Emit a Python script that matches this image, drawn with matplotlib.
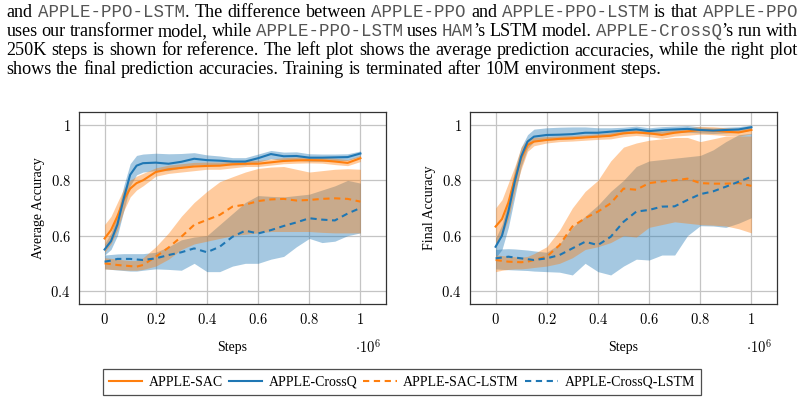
#!/usr/bin/env python3
"""
Average / final prediction accuracy of the APPLE agents, with the paper caption above.
"""

import matplotlib

matplotlib.use("Agg")

import matplotlib.pyplot as plt

plt.rcParams.update(
    {
        "font.family": ["Liberation Serif", "DejaVu Serif"],
        "mathtext.fontset": "cm",
    }
)

W, H = 804, 404

ORANGE = "#ff7f0e"
BLUE = "#1f77b4"

# steps, in units of 1e6
STEPS = [0, 0.025, 0.05, 0.075, 0.1, 0.125, 0.15, 0.2, 0.25, 0.3, 0.35, 0.4,
         0.45, 0.5, 0.55, 0.6, 0.65, 0.7, 0.75, 0.8, 0.85, 0.9, 0.95, 1.0]

# ---- left plot: average accuracy
AVG_SAC = [0.59, 0.62, 0.67, 0.73, 0.77, 0.79, 0.80, 0.83, 0.84, 0.845, 0.85, 0.852,
           0.853, 0.858, 0.86, 0.86, 0.865, 0.87, 0.872, 0.873, 0.872, 0.868, 0.863, 0.88]
AVG_SAC_LO = [0.54, 0.57, 0.62, 0.69, 0.74, 0.765, 0.78, 0.815, 0.825, 0.83, 0.835, 0.84,
              0.84, 0.845, 0.85, 0.85, 0.855, 0.86, 0.862, 0.863, 0.862, 0.857, 0.853, 0.868]
AVG_SAC_HI = [0.64, 0.67, 0.72, 0.77, 0.80, 0.815, 0.825, 0.845, 0.855, 0.86, 0.865, 0.866,
              0.866, 0.87, 0.872, 0.872, 0.877, 0.882, 0.884, 0.885, 0.884, 0.88, 0.875, 0.89]

AVG_CQ = [0.55, 0.58, 0.64, 0.735, 0.82, 0.853, 0.862, 0.864, 0.86, 0.867, 0.878, 0.873,
          0.871, 0.868, 0.868, 0.88, 0.895, 0.887, 0.888, 0.882, 0.882, 0.883, 0.884, 0.897]
AVG_CQ_LO = [0.53, 0.55, 0.60, 0.69, 0.78, 0.82, 0.83, 0.835, 0.835, 0.845, 0.855, 0.857,
             0.857, 0.856, 0.856, 0.866, 0.878, 0.872, 0.873, 0.869, 0.869, 0.871, 0.872, 0.886]
AVG_CQ_HI = [0.57, 0.61, 0.68, 0.78, 0.86, 0.89, 0.895, 0.898, 0.896, 0.897, 0.90, 0.892,
             0.888, 0.882, 0.882, 0.895, 0.908, 0.902, 0.903, 0.896, 0.895, 0.895, 0.896, 0.906]

AVG_SACL = [0.50, 0.497, 0.494, 0.492, 0.49, 0.488, 0.494, 0.524, 0.557, 0.596, 0.639, 0.657,
            0.675, 0.705, 0.712, 0.725, 0.731, 0.733, 0.727, 0.729, 0.733, 0.735, 0.733, 0.723]
AVG_SACL_LO = [0.48, 0.478, 0.477, 0.476, 0.475, 0.475, 0.478, 0.49, 0.515, 0.55, 0.57, 0.58,
               0.59, 0.60, 0.605, 0.61, 0.615, 0.615, 0.615, 0.615, 0.612, 0.61, 0.61, 0.61]
AVG_SACL_HI = [0.52, 0.518, 0.515, 0.512, 0.51, 0.51, 0.52, 0.56, 0.61, 0.67, 0.72, 0.76,
               0.795, 0.813, 0.83, 0.843, 0.848, 0.85, 0.84, 0.83, 0.835, 0.84, 0.842, 0.84]

AVG_CQL = [0.506, 0.51, 0.516, 0.516, 0.516, 0.514, 0.512, 0.518, 0.53, 0.54, 0.554, 0.54,
           0.56, 0.596, 0.618, 0.608, 0.62, 0.635, 0.648, 0.663, 0.658, 0.655, 0.68, 0.70]
AVG_CQL_LO = [0.48, 0.478, 0.476, 0.474, 0.472, 0.472, 0.475, 0.48, 0.478, 0.475, 0.50, 0.47,
              0.47, 0.49, 0.50, 0.50, 0.515, 0.525, 0.56, 0.59, 0.575, 0.58, 0.60, 0.61]
AVG_CQL_HI = [0.53, 0.532, 0.534, 0.535, 0.535, 0.535, 0.535, 0.54, 0.56, 0.585, 0.595, 0.60,
              0.64, 0.68, 0.72, 0.745, 0.742, 0.74, 0.745, 0.75, 0.765, 0.78, 0.80, 0.79]

# ---- right plot: final accuracy
FIN_SAC = [0.633, 0.66, 0.72, 0.807, 0.88, 0.928, 0.94, 0.946, 0.95, 0.952, 0.955, 0.958,
           0.961, 0.97, 0.973, 0.97, 0.964, 0.972, 0.977, 0.982, 0.98, 0.976, 0.973, 0.982]
FIN_SAC_LO = [0.57, 0.60, 0.66, 0.76, 0.84, 0.905, 0.925, 0.935, 0.94, 0.942, 0.945, 0.948,
              0.95, 0.958, 0.962, 0.958, 0.952, 0.96, 0.963, 0.967, 0.965, 0.962, 0.96, 0.968]
FIN_SAC_HI = [0.70, 0.73, 0.79, 0.85, 0.92, 0.95, 0.955, 0.958, 0.96, 0.962, 0.965, 0.968,
              0.972, 0.982, 0.985, 0.983, 0.978, 0.985, 0.99, 0.995, 0.994, 0.99, 0.988, 0.995]

FIN_CQ = [0.56, 0.60, 0.687, 0.795, 0.886, 0.94, 0.958, 0.964, 0.965, 0.967, 0.972, 0.972,
          0.976, 0.98, 0.984, 0.978, 0.982, 0.984, 0.986, 0.982, 0.98, 0.982, 0.984, 0.992]
FIN_CQ_LO = [0.52, 0.55, 0.63, 0.74, 0.85, 0.915, 0.94, 0.945, 0.948, 0.95, 0.955, 0.957,
             0.962, 0.968, 0.972, 0.966, 0.97, 0.972, 0.974, 0.971, 0.969, 0.971, 0.973, 0.982]
FIN_CQ_HI = [0.59, 0.64, 0.73, 0.84, 0.92, 0.965, 0.985, 0.99, 0.992, 0.993, 0.993, 0.99,
             0.99, 0.992, 0.996, 0.99, 0.994, 0.996, 0.998, 0.993, 0.99, 0.992, 0.994, 1.0]

FIN_SACL = [0.512, 0.509, 0.506, 0.505, 0.504, 0.506, 0.512, 0.524, 0.566, 0.633, 0.663, 0.687,
            0.717, 0.77, 0.766, 0.79, 0.796, 0.80, 0.806, 0.79, 0.788, 0.788, 0.79, 0.78]
FIN_SACL_LO = [0.47, 0.475, 0.478, 0.48, 0.48, 0.482, 0.485, 0.49, 0.50, 0.52, 0.55, 0.56,
               0.575, 0.60, 0.595, 0.63, 0.64, 0.65, 0.645, 0.64, 0.638, 0.635, 0.625, 0.61]
FIN_SACL_HI = [0.53, 0.528, 0.526, 0.524, 0.522, 0.525, 0.535, 0.56, 0.62, 0.70, 0.76, 0.80,
               0.87, 0.92, 0.935, 0.945, 0.95, 0.955, 0.955, 0.94, 0.95, 0.96, 0.96, 0.96]

FIN_CQL = [0.518, 0.521, 0.524, 0.521, 0.518, 0.515, 0.512, 0.518, 0.53, 0.554, 0.578, 0.566,
           0.596, 0.65, 0.687, 0.693, 0.705, 0.706, 0.729, 0.75, 0.76, 0.777, 0.795, 0.813]
FIN_CQL_LO = [0.48, 0.478, 0.477, 0.476, 0.475, 0.474, 0.472, 0.47, 0.468, 0.458, 0.50, 0.47,
              0.458, 0.49, 0.515, 0.512, 0.53, 0.53, 0.60, 0.636, 0.635, 0.63, 0.645, 0.665]
FIN_CQL_HI = [0.55, 0.552, 0.553, 0.552, 0.55, 0.548, 0.545, 0.54, 0.57, 0.63, 0.67, 0.71,
              0.76, 0.80, 0.85, 0.87, 0.875, 0.88, 0.885, 0.89, 0.91, 0.94, 0.965, 0.97]

LABELS = ["APPLE-SAC", "APPLE-CrossQ", "APPLE-SAC-LSTM", "APPLE-CrossQ-LSTM"]
X_TICKS = [0, 0.2, 0.4, 0.6, 0.8, 1]
Y_TICKS = [0.4, 0.6, 0.8, 1]

# caption lines; `...` marks typewriter text
CAPTION = [
    "and `APPLE-PPO-LSTM`. The difference between `APPLE-PPO` and `APPLE-PPO-LSTM` is that `APPLE-PPO`",
    "uses our transformer model, while `APPLE-PPO-LSTM` uses `HAM`\u2019s LSTM model. `APPLE-CrossQ`\u2019s run with",
    "250K steps is shown for reference. The left plot shows the average prediction accuracies, while the right plot",
    "shows the final prediction accuracies. Training is terminated after 10M environment steps.",
]
CAPTION_BASELINES = [16.7, 36.0, 55.3, 74.5]
CAPTION_LEFT, CAPTION_RIGHT = 6.5, 797.5

SERIF = ["Liberation Serif", "DejaVu Serif"]
MONO = ["Liberation Mono", "DejaVu Sans Mono"]


def px_x(x):
    return x / W


def px_y(y):
    return 1 - y / H


def split_word(word):
    parts = word.split("`")
    return [(p, i % 2 == 1) for i, p in enumerate(parts) if p]


def draw_caption(fig):
    renderer = fig.canvas.get_renderer()

    def width(text, mono, size):
        t = fig.text(0, 0, text, fontsize=size, family=MONO if mono else SERIF)
        w = t.get_window_extent(renderer).width
        t.remove()
        return w

    def line_parts(line, size_s, size_m):
        # natural width split into serif part and mono part
        ws, wm = 0.0, 0.0
        for word in line.split(" "):
            for p, m in split_word(word):
                if m:
                    wm += width(p, True, size_m)
                else:
                    ws += width(p, False, size_s)
        return ws, wm

    span = CAPTION_RIGHT - CAPTION_LEFT
    space10 = width("x x", False, 10) - width("xx", False, 10)

    # serif size: line 3 (plain text) sits at natural spacing across the column
    words3 = CAPTION[2].split(" ")
    ws, _ = line_parts(CAPTION[2], 10, 10)
    size = 10 * span / (ws + space10 * (len(words3) - 1))
    space = space10 * size / 10

    # typewriter size: line 1 sits at natural spacing too
    words1 = CAPTION[0].split(" ")
    ws, wm = line_parts(CAPTION[0], size, 10)
    msize = 10 * (span - ws - space * (len(words1) - 1)) / wm

    def size_of(mono):
        return msize if mono else size

    for i, (line, base) in enumerate(zip(CAPTION, CAPTION_BASELINES)):
        words = line.split(" ")
        widths = [sum(width(p, m, size_of(m)) for p, m in split_word(w)) for w in words]
        if i < len(CAPTION) - 1:
            gap = (span - sum(widths)) / (len(words) - 1)
        else:
            gap = space
        x = CAPTION_LEFT
        for word, ww in zip(words, widths):
            xx = x
            for piece, mono in split_word(word):
                fig.text(px_x(xx), px_y(base), piece, fontsize=size_of(mono),
                         family=MONO if mono else SERIF, va="baseline", ha="left",
                         color="#555555" if mono else "black")
                xx += width(piece, mono, size_of(mono))
            x += ww + gap


def draw_panel(ax, series, ylabel):
    # blue bands underneath, orange ones on top (brown overlap)
    for mean, lo, hi, color, style, label in sorted(series, key=lambda s: s[3] != BLUE):
        ax.fill_between(STEPS, lo, hi, color=color, alpha=0.4, linewidth=0)
    for mean, lo, hi, color, style, label in series:
        ax.plot(STEPS, mean, color=color, linestyle=style, linewidth=1.5, label=label,
                dashes=(3, 2.2) if style == "--" else (None, None))
    ax.set_xlim(-0.1, 1.1)
    ax.set_ylim(0.353, 1.047)
    ax.set_xticks(X_TICKS)
    ax.set_xticklabels([f"${t:g}$" for t in X_TICKS], fontsize=10.5)
    ax.set_yticks(Y_TICKS)
    ax.set_yticklabels([f"${t:g}$" for t in Y_TICKS], fontsize=10.5)
    ax.tick_params(length=0, pad=6)
    ax.grid(True, color="#c4c4c4", linewidth=0.9)
    ax.set_axisbelow(True)
    for sp in ax.spines.values():
        sp.set_color("#333333")
        sp.set_linewidth(0.9)
    ax.set_ylabel(ylabel, fontsize=10)
    ax.set_xlabel("Steps", fontsize=10, labelpad=10)
    ax.text(0.94, -0.225, r"$\cdot 10^6$", transform=ax.transAxes, fontsize=10.5,
            ha="center", va="center")


def main():
    fig = plt.figure(figsize=(W / 100, H / 100), dpi=100, facecolor="white")

    left = fig.add_axes([px_x(79), px_y(304), 307 / W, 192 / H])
    right = fig.add_axes([px_x(470), px_y(304), 307 / W, 192 / H])

    draw_panel(left, [
        (AVG_SAC, AVG_SAC_LO, AVG_SAC_HI, ORANGE, "-", LABELS[0]),
        (AVG_CQ, AVG_CQ_LO, AVG_CQ_HI, BLUE, "-", LABELS[1]),
        (AVG_SACL, AVG_SACL_LO, AVG_SACL_HI, ORANGE, "--", LABELS[2]),
        (AVG_CQL, AVG_CQL_LO, AVG_CQL_HI, BLUE, "--", LABELS[3]),
    ], "Average Accuracy")
    draw_panel(right, [
        (FIN_SAC, FIN_SAC_LO, FIN_SAC_HI, ORANGE, "-", LABELS[0]),
        (FIN_CQ, FIN_CQ_LO, FIN_CQ_HI, BLUE, "-", LABELS[1]),
        (FIN_SACL, FIN_SACL_LO, FIN_SACL_HI, ORANGE, "--", LABELS[2]),
        (FIN_CQL, FIN_CQL_LO, FIN_CQL_HI, BLUE, "--", LABELS[3]),
    ], "Final Accuracy")

    handles, labels = left.get_legend_handles_labels()
    leg = fig.legend(handles, labels, loc="center", ncol=4,
                     bbox_to_anchor=(px_x(402), px_y(382)), fontsize=10,
                     frameon=True, fancybox=False, edgecolor="#222222",
                     handlelength=2.4, handletextpad=0.45, columnspacing=0.45,
                     borderpad=0.45)
    leg.get_frame().set_linewidth(0.9)

    draw_caption(fig)

    fig.savefig("out.png", dpi=100)
    plt.close(fig)


if __name__ == "__main__":
    main()
